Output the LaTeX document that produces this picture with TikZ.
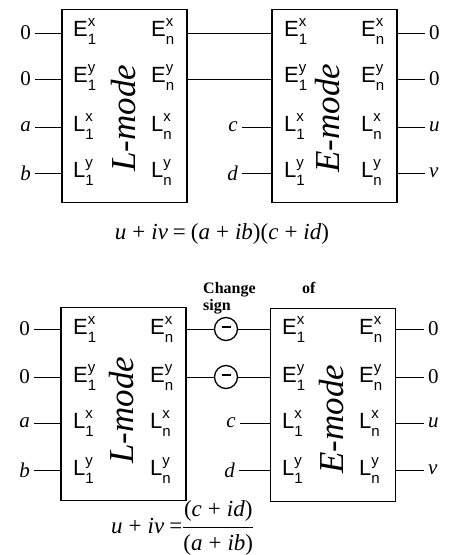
\documentclass[tikz,border=0pt]{standalone}
\usepackage{amsmath}
\usepackage{fontspec}
\setmainfont{Liberation Serif}
\setsansfont{Liberation Sans}
\usetikzlibrary{calc}

% pin label: letter with superscript and subscript stacked
\newcommand{\pin}[3]{{\sffamily\fontsize{22bp}{22bp}\selectfont #1\rlap{\raisebox{10bp}{\fontsize{15bp}{15bp}\selectfont #2}}\raisebox{-8bp}{\fontsize{15bp}{15bp}\selectfont #3}}}

\begin{document}
\begin{tikzpicture}[x=1bp, y=-1bp,
        modebox/.style={draw, line width=1.1bp, minimum width=125bp, minimum height=193bp, inner sep=0pt},
        modename/.style={rotate=90, font=\fontsize{35bp}{35bp}\selectfont\itshape},
        lab/.style={font=\fontsize{21bp}{21bp}\selectfont, inner sep=4bp},
        pinlab/.style={anchor=base west, inner sep=0pt},
        signcirc/.style={draw, circle, line width=1.3bp, minimum size=23bp, inner sep=0pt},
        wire/.style={line width=0.9bp}]
    \useasboundingbox (0,0) rectangle (450,555);

    % upper pair
    \node[modebox] (L1) at (124.5,106) {};
    \node[modebox] (E1) at (334.5,106) {};
    \node[modename] (L1name) at (124,118) {L-mode};
    \node[modename] (E1name) at (328,118) {E-mode};

    \node[pinlab] (L1a) at (73,37) {\pin{E}{x}{1}};
    \node[pinlab] (L1b) at (73,83) {\pin{E}{y}{1}};
    \node[pinlab] (L1c) at (73,132) {\pin{L}{x}{1}};
    \node[pinlab] (L1d) at (73,178) {\pin{L}{y}{1}};
    \node[pinlab] (L1e) at (151,37) {\pin{E}{x}{n}};
    \node[pinlab] (L1f) at (151,83) {\pin{E}{y}{n}};
    \node[pinlab] (L1g) at (151,132) {\pin{L}{x}{n}};
    \node[pinlab] (L1h) at (151,178) {\pin{L}{y}{n}};

    \node[pinlab] (E1a) at (284,37) {\pin{E}{x}{1}};
    \node[pinlab] (E1b) at (284,83) {\pin{E}{y}{1}};
    \node[pinlab] (E1c) at (284,132) {\pin{L}{x}{1}};
    \node[pinlab] (E1d) at (284,178) {\pin{L}{y}{1}};
    \node[pinlab] (E1e) at (361,37) {\pin{E}{x}{n}};
    \node[pinlab] (E1f) at (361,83) {\pin{E}{y}{n}};
    \node[pinlab] (E1g) at (361,132) {\pin{L}{x}{n}};
    \node[pinlab] (E1h) at (361,178) {\pin{L}{y}{n}};

    \node[lab, anchor=east] (in1) at (35,33) {0};
    \node[lab, anchor=east] (in2) at (35,79) {0};
    \node[lab, anchor=east] (in3) at (35,127) {\textit{a}};
    \node[lab, anchor=east] (in4) at (35,173) {\textit{b}};
    \node[lab, anchor=east] (mid3) at (242,127) {\textit{c}};
    \node[lab, anchor=east] (mid4) at (242,173) {\textit{d}};
    \node[lab, anchor=west] (out1) at (425,33) {0};
    \node[lab, anchor=west] (out2) at (425,79) {0};
    \node[lab, anchor=west] (out3) at (425,127) {\textit{u}};
    \node[lab, anchor=west] (out4) at (425,173) {\textit{v}};

    \draw[wire] (in1) -- (in1 -| L1.west);
    \draw[wire] (in2) -- (in2 -| L1.west);
    \draw[wire] (in3) -- (in3 -| L1.west);
    \draw[wire] (in4) -- (in4 -| L1.west);
    \draw[wire] (L1.east |- in1) -- (E1.west |- in1);
    \draw[wire] (L1.east |- in2) -- (E1.west |- in2);
    \draw[wire] (mid3) -- (mid3 -| E1.west);
    \draw[wire] (mid4) -- (mid4 -| E1.west);
    \draw[wire] (E1.east |- out1) -- (out1);
    \draw[wire] (E1.east |- out2) -- (out2);
    \draw[wire] (E1.east |- out3) -- (out3);
    \draw[wire] (E1.east |- out4) -- (out4);

    \node[anchor=base, font=\fontsize{23bp}{23bp}\selectfont] (prod) at (222,239)
        {\textit{u}\hspace{6bp}+\hspace{6bp}\textit{iv}\hspace{5bp}=\hspace{5bp}(\textit{a}\hspace{6bp}+\hspace{6bp}\textit{ib})(\textit{c}\hspace{6bp}+\hspace{6bp}\textit{id})};

    % lower pair
    \node[modebox] (L2) at (123.5,404) {};
    \node[modebox] (E2) at (333,405) {};
    \node[modename] (L2name) at (122,410) {L-mode};
    \node[modename] (E2name) at (332,419) {E-mode};

    \node[pinlab] (L2a) at (73,334) {\pin{E}{x}{1}};
    \node[pinlab] (L2b) at (73,382) {\pin{E}{y}{1}};
    \node[pinlab] (L2c) at (73,428) {\pin{L}{x}{1}};
    \node[pinlab] (L2d) at (73,475) {\pin{L}{y}{1}};
    \node[pinlab] (L2e) at (150,334) {\pin{E}{x}{n}};
    \node[pinlab] (L2f) at (150,382) {\pin{E}{y}{n}};
    \node[pinlab] (L2g) at (150,428) {\pin{L}{x}{n}};
    \node[pinlab] (L2h) at (150,475) {\pin{L}{y}{n}};

    \node[pinlab] (E2a) at (282,334) {\pin{E}{x}{1}};
    \node[pinlab] (E2b) at (282,382) {\pin{E}{y}{1}};
    \node[pinlab] (E2c) at (282,428) {\pin{L}{x}{1}};
    \node[pinlab] (E2d) at (282,475) {\pin{L}{y}{1}};
    \node[pinlab] (E2e) at (359,334) {\pin{E}{x}{n}};
    \node[pinlab] (E2f) at (359,382) {\pin{E}{y}{n}};
    \node[pinlab] (E2g) at (359,428) {\pin{L}{x}{n}};
    \node[pinlab] (E2h) at (359,475) {\pin{L}{y}{n}};

    \node[lab, anchor=east] (in5) at (34,329) {0};
    \node[lab, anchor=east] (in6) at (34,377) {0};
    \node[lab, anchor=east] (in7) at (34,423) {\textit{a}};
    \node[lab, anchor=east] (in8) at (34,470) {\textit{b}};
    \node[lab, anchor=east] (mid7) at (240,423) {\textit{c}};
    \node[lab, anchor=east] (mid8) at (239,470) {\textit{d}};
    \node[lab, anchor=west] (out5) at (424,329) {0};
    \node[lab, anchor=west] (out6) at (424,377) {0};
    \node[lab, anchor=west] (out7) at (424,423) {\textit{u}};
    \node[lab, anchor=west] (out8) at (424,470) {\textit{v}};

    \node[signcirc] (sg1) at (226,329) {\rule[3.5bp]{9bp}{2bp}};
    \node[signcirc] (sg2) at (226,377) {\rule[3.5bp]{9bp}{2bp}};
    \node[anchor=base west, align=left, inner sep=0pt, font=\fontsize{16bp}{17bp}\selectfont\bfseries] (chg) at (203,310) {Change\\sign};
    \node[anchor=base west, inner sep=0pt, font=\fontsize{16bp}{17bp}\selectfont\bfseries] (of) at (302,293) {of};

    \draw[wire] (in5) -- (in5 -| L2.west);
    \draw[wire] (in6) -- (in6 -| L2.west);
    \draw[wire] (in7) -- (in7 -| L2.west);
    \draw[wire] (in8) -- (in8 -| L2.west);
    \draw[wire] (L2.east |- sg1) -- (sg1) -- (E2.west |- sg1);
    \draw[wire] (L2.east |- sg2) -- (sg2) -- (E2.west |- sg2);
    \draw[wire] (mid7) -- (mid7 -| E2.west);
    \draw[wire] (mid8) -- (mid8 -| E2.west);
    \draw[wire] (E2.east |- out5) -- (out5);
    \draw[wire] (E2.east |- out6) -- (out6);
    \draw[wire] (E2.east |- out7) -- (out7);
    \draw[wire] (E2.east |- out8) -- (out8);

    \node[anchor=west, inner sep=0pt, font=\fontsize{23bp}{23bp}\selectfont] (quot) at (111,528)
        {\textit{u}\hspace{6bp}+\hspace{6bp}\textit{iv}\hspace{5bp}=$\dfrac{\text{(\textit{c}\hspace{6bp}+\hspace{6bp}\textit{id})}}{\text{(\textit{a}\hspace{6bp}+\hspace{6bp}\textit{ib})}}$};
\end{tikzpicture}
\end{document}
